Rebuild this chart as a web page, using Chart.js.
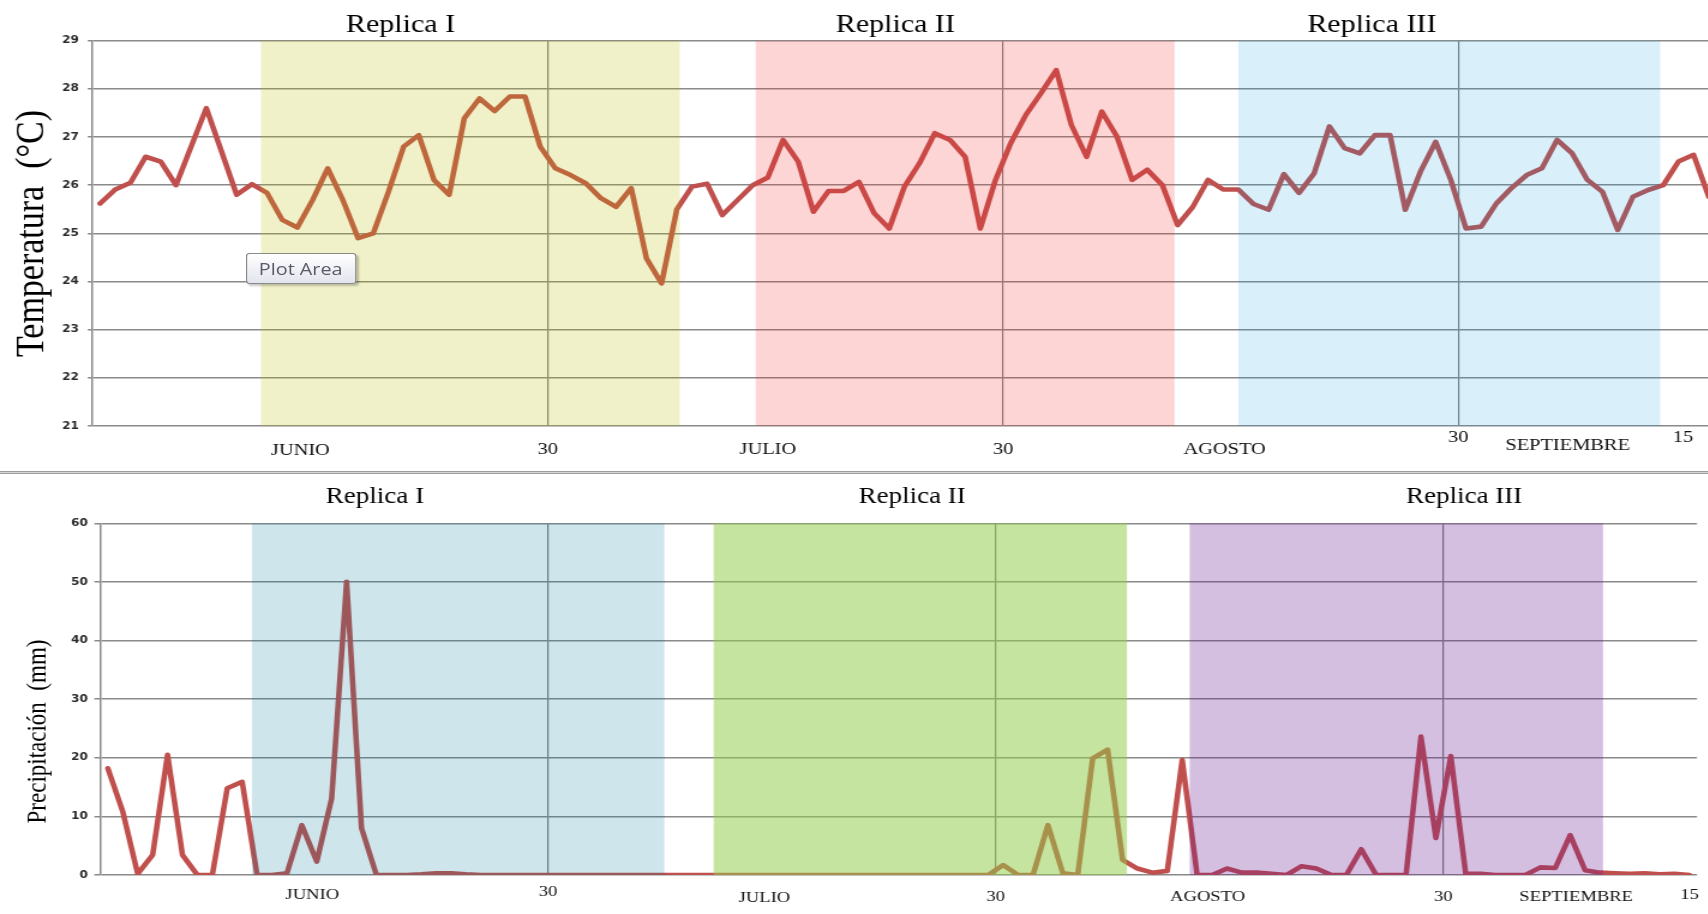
<!DOCTYPE html>
<html>
<head>
<meta charset="utf-8">
<script src="https://cdn.jsdelivr.net/npm/chart.js@4.4.1/dist/chart.umd.min.js"></script>
<style>
html,body{margin:0;padding:0;background:#fff;overflow:hidden;width:1708px;height:914px;}
#stage{position:absolute;left:0;top:0;width:1424px;height:914px;transform:scaleX(1.2);transform-origin:0 0;}
#tempCanvas{position:absolute;left:0;top:0;}
#precCanvas{position:absolute;left:0;top:476px;}
#divider{position:absolute;left:0;top:470.5px;width:1424px;height:1px;border-top:1px solid #9c9c9c;border-bottom:1px solid #9c9c9c;background:#d6d6d6;}
#plotArea{position:absolute;left:204.6px;top:252.7px;width:90px;height:29px;border:1px solid #8a8a8a;border-radius:3px;
  background:linear-gradient(#ffffff,#e3e5ee);box-shadow:2px 2px 2px rgba(0,0,0,0.22);
  font:16.5px "Open Sans",sans-serif;color:#5a5a68;line-height:29px;text-align:center;}
</style>
</head>
<body>
<div id="stage">
  <canvas id="tempCanvas" width="1424" height="466" style="width:1424px;height:466px"></canvas>
  <div id="divider"></div>
  <canvas id="precCanvas" width="1424" height="438" style="width:1424px;height:438px"></canvas>
  <div id="plotArea">Plot Area</div>
</div>
<script>
// ---------- data (one value per day, starting 1 June) ----------
const temperature = [
  25.62, 25.91, 26.05, 26.59, 26.49, 26.00, 26.80, 27.60, 26.70, 25.80,
  26.02, 25.84, 25.28, 25.12, 25.69, 26.35, 25.69, 24.90, 25.00, 25.86,
  26.80, 27.04, 26.11, 25.80, 27.39, 27.80, 27.54, 27.84, 27.84, 26.80,
  26.35, 26.21, 26.04, 25.73, 25.55, 25.94, 24.48, 23.96, 25.50, 25.97,
  26.03, 25.38, 25.69, 26.00, 26.16, 26.94, 26.49, 25.45, 25.88, 25.88,
  26.07, 25.42, 25.10, 25.97, 26.46, 27.08, 26.94, 26.59, 25.10, 26.11,
  26.87, 27.46, 27.91, 28.39, 27.25, 26.59, 27.53, 27.01, 26.11, 26.32,
  26.00, 25.17, 25.55, 26.11, 25.91, 25.91, 25.61, 25.49, 26.23, 25.84,
  26.25, 27.22, 26.77, 26.66, 27.04, 27.04, 25.49, 26.28, 26.90, 26.11,
  25.10, 25.14, 25.62, 25.94, 26.21, 26.35, 26.94, 26.66, 26.11, 25.86,
  25.07, 25.76, 25.90, 26.00, 26.49, 26.63, 25.76
];
const precipitation = [
  18.2, 10.8, 0.2, 3.4, 20.5, 3.4, 0, 0, 14.8, 15.9,
  0, 0, 0.3, 8.5, 2.3, 13.1, 50.0, 8.0, 0, 0,
  0, 0.1, 0.3, 0.3, 0.1, 0, 0, 0, 0, 0,
  0, 0, 0, 0, 0, 0, 0, 0, 0, 0,
  0, 0, 0, 0, 0, 0, 0, 0, 0, 0,
  0, 0, 0, 0, 0, 0, 0, 0, 0, 0,
  1.7, 0, 0, 8.5, 0.3, 0, 19.9, 21.4, 2.6, 1.1,
  0.4, 0.7, 19.6, 0, 0, 1.1, 0.4, 0.4, 0.2, 0,
  1.5, 1.1, 0, 0, 4.4, 0, 0, 0, 23.6, 6.3,
  20.3, 0.2, 0.2, 0, 0, 0, 1.3, 1.2, 6.8, 0.8,
  0.4, 0.3, 0.2, 0.3, 0.1, 0.2, 0
];
const replicaTitles = ['Replica I', 'Replica II', 'Replica III'];
const xTickLabels = ['JUNIO', '30', 'JULIO', '30', 'AGOSTO', '30', 'SEPTIEMBRE', '15'];
// replica periods, in day units
const tempBandStart = [10.6, 43.2, 75.0];
const tempBandEnd   = [38.2, 70.8, 102.8];
const precBandStart = [9.65, 40.6, 72.5];
const precBandEnd   = [37.3, 68.3, 100.2];

// ---------- layout / style (kept apart from the data) ----------
const tempTickPos = [13.2, 29.5, 44.0, 59.5, 74.1, 89.5, 96.7, 104.3];
const precTickPos = [13.7, 29.5, 44.0, 59.5, 73.7, 89.5, 98.4, 106.0];
const tempTickDrop = [24.5, 23.3, 24, 23.5, 23.3, 11.7, 20, 11.7];
const precTickDrop = [20, 16.7, 22.7, 21.7, 21.7, 21.7, 21.7, 20];
const tempTitlePos = [19.8, 52.4, 83.8];
const precTitlePos = [17.9, 53.9, 90.9];
const tempBandColors = ['rgba(185,190,0,0.21)', 'rgba(245,45,45,0.20)', 'rgba(0,155,228,0.15)'];
const precBandColors = ['rgba(0,118,155,0.19)', 'rgba(146,204,74,0.53)', 'rgba(105,26,148,0.28)'];
const GRID = '#8a8a8a';
const LINE = '#c0504d';
const SERIF = '"Liberation Serif", "Times New Roman", serif';

function bandsPlugin(id, starts, ends, colors, titlePos, titleFont, titleBaseline) {
  return {
    id,
    afterDatasetsDraw(chart) {
      const {ctx, chartArea, scales} = chart;
      const x = scales.x;
      ctx.save();
      for (let i = 0; i < starts.length; i++) {
        const x0 = x.getPixelForValue(starts[i]);
        const x1 = x.getPixelForValue(ends[i]);
        ctx.fillStyle = colors[i];
        ctx.fillRect(x0, chartArea.top, x1 - x0, chartArea.bottom - chartArea.top);
      }
      ctx.fillStyle = '#000';
      ctx.font = titleFont;
      ctx.textAlign = 'center';
      ctx.textBaseline = 'alphabetic';
      for (let i = 0; i < replicaTitles.length; i++) {
        ctx.fillText(replicaTitles[i], x.getPixelForValue(titlePos[i]), titleBaseline);
      }
      ctx.restore();
    }
  };
}
function yTitlePlugin(id, text, font, cx, cy) {
  return {
    id,
    afterDraw(chart) {
      const ctx = chart.ctx;
      ctx.save();
      ctx.translate(cx, cy);
      ctx.rotate(-Math.PI / 2);
      ctx.fillStyle = '#000';
      ctx.font = font;
      ctx.textAlign = 'center';
      ctx.textBaseline = 'middle';
      ctx.fillText(text, 0, 0);
      ctx.restore();
    }
  };
}
function xScale(min, max, tickPos, drops, size, pad, height) {
  return {
    type: 'linear', min, max,
    afterBuildTicks: s => { s.ticks = tickPos.map(v => ({value: v})); },
    afterFit: s => { s.height = height; },
    ticks: {
      autoSkip: false, maxRotation: 0, minRotation: 0, padding: pad, color: '#111',
      callback: (v, i) => xTickLabels[i],
      font: ctx => ({family: SERIF, size, lineHeight: Math.max(0.1, 2 * (drops[ctx.index] - pad) / size)})
    },
    grid: {
      drawTicks: false, lineWidth: 1.2,
      color: ctx => (ctx.tick && ctx.tick.label === '30') ? '#7c7c7c' : 'rgba(0,0,0,0)'
    },
    border: {display: false}
  };
}
function yScale(min, max, step, width, tickLen, pad) {
  return {
    min, max,
    afterFit: s => { s.width = width; },
    ticks: {stepSize: step, padding: pad, color: '#2a2a2a',
            font: {family: '"DejaVu Sans", Verdana, sans-serif', weight: 'bold', size: 10}},
    grid: {color: GRID, lineWidth: 1.5, tickLength: tickLen},
    border: {display: true, color: GRID, width: 1.5}
  };
}
const lineStyle = {borderColor: LINE, borderWidth: 4.6, pointRadius: 0, tension: 0,
                   borderJoinStyle: 'round', borderCapStyle: 'round', fill: false};

new Chart(document.getElementById('tempCanvas'), {
  type: 'line',
  data: {datasets: [Object.assign({label: 'Temperatura', data: temperature.map((v, i) => ({x: i, y: v}))}, lineStyle)]},
  options: {
    responsive: false, animation: false, devicePixelRatio: 1,
    layout: {padding: {top: 40.7, left: 0, right: 0, bottom: 0}},
    plugins: {legend: {display: false}, tooltip: {enabled: false}},
    scales: {
      x: xScale(-0.5, 106, tempTickPos, tempTickDrop, 17, 2, 40),
      y: yScale(21, 29, 1, 77.08, 4, 7.3)
    }
  },
  plugins: [
    bandsPlugin('tempBands', tempBandStart, tempBandEnd, tempBandColors, tempTitlePos, '25px ' + SERIF, 31.7),
    yTitlePlugin('tempTitle', 'Temperatura  (°C)', '34px ' + SERIF, 27.5, 233.5)
  ]
});

new Chart(document.getElementById('precCanvas'), {
  type: 'line',
  data: {datasets: [Object.assign({label: 'Precipitación', data: precipitation.map((v, i) => ({x: i, y: v}))}, lineStyle)]},
  options: {
    responsive: false, animation: false, devicePixelRatio: 1,
    layout: {padding: {top: 47.3, left: 0, right: 9.83, bottom: 0}},
    plugins: {legend: {display: false}, tooltip: {enabled: false}},
    scales: {
      x: xScale(-0.5, 106.5, precTickPos, precTickDrop, 15.5, 2, 39),
      y: yScale(0, 60, 10, 83.67, 5, 5.5)
    }
  },
  plugins: [
    bandsPlugin('precBands', precBandStart, precBandEnd, precBandColors, precTitlePos, '22.5px ' + SERIF, 26.7),
    yTitlePlugin('precTitle', 'Precipitación  (mm)', '23px ' + SERIF, 31.7, 255.5)
  ]
});
</script>
</body>
</html>
